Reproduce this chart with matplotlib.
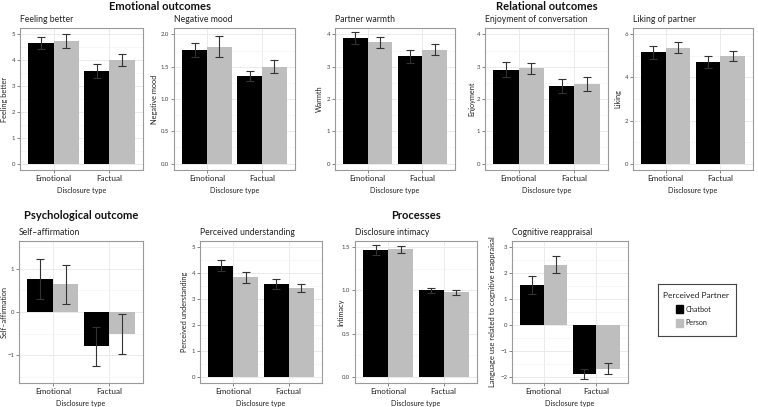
import matplotlib
matplotlib.use("Agg")
import matplotlib.pyplot as plt
import numpy as np
from matplotlib.patches import Rectangle

plt.rcParams['font.family'] = ['Lato', 'DejaVu Sans']

categories = ["Emotional", "Factual"]
groups = ["Chatbot", "Person"]

# means and half-widths of error bars
feeling_chatbot = [4.67, 3.57]; feeling_chatbot_err = [0.23, 0.27]
feeling_person = [4.75, 4.00]; feeling_person_err = [0.28, 0.23]
negmood_chatbot = [1.76, 1.36]; negmood_chatbot_err = [0.11, 0.08]
negmood_person = [1.81, 1.50]; negmood_person_err = [0.16, 0.10]
warmth_chatbot = [3.89, 3.32]; warmth_chatbot_err = [0.18, 0.21]
warmth_person = [3.76, 3.53]; warmth_person_err = [0.17, 0.17]
enjoy_chatbot = [2.91, 2.41]; enjoy_chatbot_err = [0.23, 0.22]
enjoy_person = [2.95, 2.47]; enjoy_person_err = [0.16, 0.21]
liking_chatbot = [5.17, 4.71]; liking_chatbot_err = [0.29, 0.29]
liking_person = [5.39, 5.00]; liking_person_err = [0.24, 0.22]
selfaff_chatbot = [0.77, -0.80]; selfaff_chatbot_err = [0.46, 0.46]
selfaff_person = [0.64, -0.51]; selfaff_person_err = [0.45, 0.47]
underst_chatbot = [4.29, 3.60]; underst_chatbot_err = [0.22, 0.19]
underst_person = [3.85, 3.43]; underst_person_err = [0.21, 0.15]
intimacy_chatbot = [1.47, 1.00]; intimacy_chatbot_err = [0.06, 0.03]
intimacy_person = [1.48, 0.98]; intimacy_person_err = [0.04, 0.03]
reapp_chatbot = [1.54, -1.90]; reapp_chatbot_err = [0.34, 0.20]
reapp_person = [2.33, -1.70]; reapp_person_err = [0.32, 0.22]

W, H = 758, 407
fig = plt.figure(figsize=(W / 100, H / 100), dpi=100)

def ax_px(l, t, r, b):
    return fig.add_axes([l / W, 1 - b / H, (r - l) / W, (b - t) / H])

COL_C = "#000000"
COL_P = "#BEBEBE"
BORDER = "#9A9A9A"
GRID = "#EBEBEB"
GRID_MINOR = "#F4F4F4"
TXT = "#222222"

def panel(box, title, ylabel, chat, chat_err, pers, pers_err, ylim, major, fmt,
          ylab_off, ylab_size=5.3):
    ax = ax_px(*box)
    width_px = box[2] - box[0]
    x = np.arange(1, len(categories) + 1)
    w = 0.45
    ax.bar(x - w / 2, chat, width=w, color=COL_C, zorder=3)
    ax.bar(x + w / 2, pers, width=w, color=COL_P, zorder=3)
    ax.errorbar(x - w / 2, chat, yerr=chat_err, fmt='none', ecolor="#333333",
                elinewidth=0.8, capsize=2.8, capthick=0.8, zorder=4)
    ax.errorbar(x + w / 2, pers, yerr=pers_err, fmt='none', ecolor="#333333",
                elinewidth=0.8, capsize=2.8, capthick=0.8, zorder=4)
    lo, hi = ylim
    pad = (hi - lo) * 0.05
    ax.set_ylim(lo - pad, hi + pad)
    ax.set_xlim(0.4, 2.6)
    ax.set_xticks(x)
    ax.set_xticklabels(categories, fontsize=5.85, color=TXT)
    ax.set_yticks(major)
    ax.set_yticklabels([fmt.format(v).replace("-", "\u2212") for v in major],
                       fontsize=4.3, color="#444444")
    step = major[1] - major[0]
    minors = [m + step / 2 for m in [major[0] - step] + list(major)]
    minors = [m for m in minors if lo - pad <= m <= hi + pad]
    ax.set_yticks(minors, minor=True)
    ax.tick_params(axis='y', which='minor', length=0)
    ax.tick_params(axis='both', which='major', length=2, width=0.5, color="#555555", pad=1.5)
    ax.grid(True, which='major', color=GRID, lw=0.7, zorder=0)
    ax.grid(True, which='minor', axis='y', color=GRID_MINOR, lw=0.5, zorder=0)
    for s in ax.spines.values():
        s.set_color(BORDER)
        s.set_linewidth(0.8)
    ax.set_xlabel("Disclosure type", fontsize=5.2, color=TXT, labelpad=3.5)
    ax.set_ylabel(ylabel, fontsize=ylab_size, color=TXT)
    # label right edge placed so its centre sits ylab_off px left of frame
    ax.yaxis.set_label_coords(-(ylab_off - 3.5) / width_px, 0.5)
    ax.set_title(title, loc='left', fontsize=6.2, color=TXT, pad=4)
    ax.set_axisbelow(True)
    return ax

top = (28, 170)
bot = (241, 383)

panel((20, top[0], 143, top[1]), "Feeling better", "Feeling better",
      feeling_chatbot, feeling_chatbot_err, feeling_person, feeling_person_err,
      (0, 5), [0, 1, 2, 3, 4, 5], "{:.0f}", 15)
panel((174, top[0], 295, top[1]), "Negative mood", "Negative mood",
      negmood_chatbot, negmood_chatbot_err, negmood_person, negmood_person_err,
      (0, 2), [0, 0.5, 1.0, 1.5, 2.0], "{:.1f}", 19)
panel((335, top[0], 455, top[1]), "Partner warmth", "Warmth",
      warmth_chatbot, warmth_chatbot_err, warmth_person, warmth_person_err,
      (0, 4), [0, 1, 2, 3, 4], "{:.0f}", 16)
panel((485, top[0], 608, top[1]), "Enjoyment of conversation", "Enjoyment",
      enjoy_chatbot, enjoy_chatbot_err, enjoy_person, enjoy_person_err,
      (0, 4), [0, 1, 2, 3, 4], "{:.0f}", 13)
panel((633, top[0], 753, top[1]), "Liking of partner", "Liking",
      liking_chatbot, liking_chatbot_err, liking_person, liking_person_err,
      (0, 6), [0, 2, 4, 6], "{:.0f}", 15)

panel((19, bot[0], 143, bot[1]), "Self\u2013affirmation", "Self\u2013affirmation",
      selfaff_chatbot, selfaff_chatbot_err, selfaff_person, selfaff_person_err,
      (-1.5, 1.5), [-1, 0, 1], "{:.0f}", 15)
panel((200, bot[0], 322, bot[1]), "Perceived understanding", "Perceived understanding",
      underst_chatbot, underst_chatbot_err, underst_person, underst_person_err,
      (0, 5), [0, 1, 2, 3, 4, 5], "{:.0f}", 15)
panel((355, bot[0], 477, bot[1]), "Disclosure intimacy", "Intimacy",
      intimacy_chatbot, intimacy_chatbot_err, intimacy_person, intimacy_person_err,
      (0, 1.5), [0, 0.5, 1.0, 1.5], "{:.1f}", 14)
panel((512, bot[0], 628, bot[1]), "Cognitive reappraisal",
      "Language use related to cognitive reappraisal",
      reapp_chatbot, reapp_chatbot_err, reapp_person, reapp_person_err,
      (-2, 3), [-2, -1, 0, 1, 2, 3], "{:.0f}", 19, ylab_size=5.5)

# section headers
def hdr(x, y, s, ha='center'):
    fig.text(x / W, 1 - y / H, s, ha=ha, va='center', fontsize=8.0,
             fontweight='bold', color="#111111")

hdr(160, 6, "Emotional outcomes")
hdr(547, 6, "Relational outcomes")
hdr(81, 216, "Psychological outcome")
hdr(416, 216, "Processes")

# legend
lg = fig.add_axes([658 / W, 1 - 336 / H, (736 - 658) / W, (336 - 284) / H])
lg.set_xlim(0, 78); lg.set_ylim(52, 0)
lg.set_xticks([]); lg.set_yticks([])
for s in lg.spines.values():
    s.set_color("#444444"); s.set_linewidth(0.8)
lg.text(5, 11, "Perceived Partner", fontsize=6.05, va='center', ha='left', color=TXT)
lg.add_patch(Rectangle((18, 21), 6.5, 8, color=COL_C))
lg.add_patch(Rectangle((18, 34.5), 6.5, 8, color=COL_P))
lg.text(27.5, 25, groups[0], fontsize=5.2, va='center', ha='left', color=TXT)
lg.text(27.5, 38.5, groups[1], fontsize=5.2, va='center', ha='left', color=TXT)

fig.savefig("out.png", dpi=100)
